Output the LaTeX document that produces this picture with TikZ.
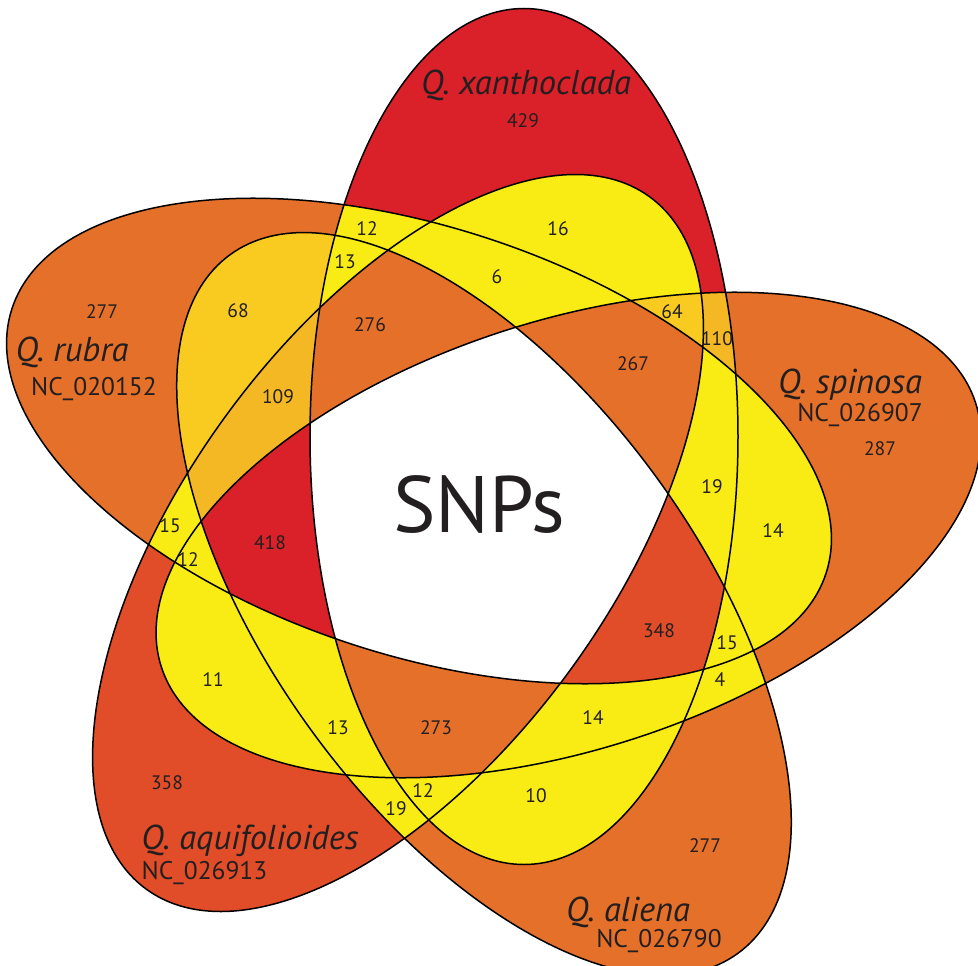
\documentclass[tikz,border=0pt]{standalone}
\usepackage{fontspec}
\setmainfont{PT Sans}
\definecolor{cRed}{RGB}{218,33,41}
\definecolor{cOra}{RGB}{228,112,41}
\definecolor{cVer}{RGB}{224,77,40}
\definecolor{cYel}{RGB}{248,236,20}
\definecolor{cGoldA}{RGB}{249,203,32}
\definecolor{cGoldB}{RGB}{243,184,36}
\definecolor{txt}{RGB}{35,31,32}
\def\shapeU{(0,0) ellipse [x radius=214, y radius=428]}
\begin{document}
\begin{tikzpicture}[x=1pt,y=-1pt,
  eX/.style={shift={(524,436.5)}},
  eS/.style={shift={(568.5,535)},rotate=-72},
  eT/.style={shift={(484,604)},rotate=-144,yscale=1.009},
  eV/.style={shift={(398,543)},rotate=-216},
  eR/.style={shift={(419,441)},rotate=-288},
  num/.style={font=\fontsize{19.5}{21}\selectfont, anchor=base, inner sep=0pt, text=txt},
  spec/.style={font=\fontsize{34.5}{37}\selectfont\itshape, anchor=base, inner sep=0pt, text=txt},
  acc/.style={font=\fontsize{25.5}{27}\selectfont, anchor=base, inner sep=0pt, text=txt},
  big/.style={font=\fontsize{80}{84}\selectfont, anchor=base, inner sep=0pt, text=txt},
  outline/.style={draw=black, line width=1.5pt}]
\useasboundingbox (0,0) rectangle (978,966);
% single sets
\fill[eX, cRed] \shapeU;
\fill[eR, cOra] \shapeU;
\fill[eS, cOra] \shapeU;
\fill[eT, cOra] \shapeU;
\fill[eV, cVer] \shapeU;
% pairs
\begin{scope}\clip[eX] \shapeU; \fill[eR, cYel] \shapeU;\end{scope}
\begin{scope}\clip[eX] \shapeU; \fill[eS, cGoldB] \shapeU;\end{scope}
\begin{scope}\clip[eX] \shapeU; \fill[eT, cYel] \shapeU;\end{scope}
\begin{scope}\clip[eX] \shapeU; \fill[eV, cYel] \shapeU;\end{scope}
\begin{scope}\clip[eR] \shapeU; \fill[eS, cYel] \shapeU;\end{scope}
\begin{scope}\clip[eR] \shapeU; \fill[eT, cGoldA] \shapeU;\end{scope}
\begin{scope}\clip[eR] \shapeU; \fill[eV, cYel] \shapeU;\end{scope}
\begin{scope}\clip[eS] \shapeU; \fill[eT, cYel] \shapeU;\end{scope}
\begin{scope}\clip[eS] \shapeU; \fill[eV, cYel] \shapeU;\end{scope}
\begin{scope}\clip[eT] \shapeU; \fill[eV, cYel] \shapeU;\end{scope}
% triples
\begin{scope}\clip[eX] \shapeU; \clip[eR] \shapeU; \fill[eS, cYel] \shapeU;\end{scope}
\begin{scope}\clip[eX] \shapeU; \clip[eR] \shapeU; \fill[eT, cYel] \shapeU;\end{scope}
\begin{scope}\clip[eX] \shapeU; \clip[eR] \shapeU; \fill[eV, cYel] \shapeU;\end{scope}
\begin{scope}\clip[eX] \shapeU; \clip[eS] \shapeU; \fill[eT, cYel] \shapeU;\end{scope}
\begin{scope}\clip[eX] \shapeU; \clip[eS] \shapeU; \fill[eV, cGoldA] \shapeU;\end{scope}
\begin{scope}\clip[eX] \shapeU; \clip[eT] \shapeU; \fill[eV, cYel] \shapeU;\end{scope}
\begin{scope}\clip[eR] \shapeU; \clip[eS] \shapeU; \fill[eT, cYel] \shapeU;\end{scope}
\begin{scope}\clip[eR] \shapeU; \clip[eS] \shapeU; \fill[eV, cYel] \shapeU;\end{scope}
\begin{scope}\clip[eR] \shapeU; \clip[eT] \shapeU; \fill[eV, cGoldB] \shapeU;\end{scope}
\begin{scope}\clip[eS] \shapeU; \clip[eT] \shapeU; \fill[eV, cYel] \shapeU;\end{scope}
% quadruples
\begin{scope}\clip[eX] \shapeU; \clip[eR] \shapeU; \clip[eT] \shapeU; \fill[eV, cOra] \shapeU;\end{scope}
\begin{scope}\clip[eX] \shapeU; \clip[eR] \shapeU; \clip[eS] \shapeU; \fill[eV, cOra] \shapeU;\end{scope}
\begin{scope}\clip[eX] \shapeU; \clip[eR] \shapeU; \clip[eS] \shapeU; \fill[eT, cVer] \shapeU;\end{scope}
\begin{scope}\clip[eX] \shapeU; \clip[eS] \shapeU; \clip[eT] \shapeU; \fill[eV, cOra] \shapeU;\end{scope}
\begin{scope}\clip[eR] \shapeU; \clip[eS] \shapeU; \clip[eT] \shapeU; \fill[eV, cRed] \shapeU;\end{scope}
% all five
\begin{scope}\clip[eX] \shapeU; \clip[eR] \shapeU; \clip[eS] \shapeU; \clip[eT] \shapeU; \fill[eV, white] \shapeU;\end{scope}
% outlines
\path[eX, outline] \shapeU;
\path[eR, outline] \shapeU;
\path[eS, outline] \shapeU;
\path[eT, outline] \shapeU;
\path[eV, outline] \shapeU;
% labels
\node[spec] (nx) at (526,95) {Q. xanthoclada};
\node[num] (n429) at (523,128) {429};
\node[num] (n12a) at (367,235) {12};
\node[num] (n16) at (558,235) {16};
\node[num] (n13a) at (345,268) {13};
\node[num] (n6) at (497,283) {6};
\node[num] (n276) at (370,331) {276};
\node[num] (n277r) at (102,318) {277};
\node[num] (n68) at (238,317) {68};
\node[spec] (nr) at (72,361) {Q. rubra};
\node[acc] (nra) at (94,395) {NC\_020152};
\node[num] (n109) at (278,403) {109};
\node[num] (n15a) at (170,532) {15};
\node[num] (n12b) at (188,566) {12};
\node[num] (n418) at (270,549) {418};
\node[big] (snp) at (479,532) {SNPs};
\node[num] (n267) at (633,370) {267};
\node[num] (n64) at (672,318) {64};
\node[num] (n110) at (717,345) {110};
\node[spec] (ns) at (850,393) {Q. spinosa};
\node[acc] (nsa) at (860,421) {NC\_026907};
\node[num] (n287) at (880,455) {287};
\node[num] (n19a) at (712,493) {19};
\node[num] (n14a) at (773,537) {14};
\node[num] (n348) at (659,637) {348};
\node[num] (n15b) at (727,649) {15};
\node[num] (n4) at (720,686) {4};
\node[num] (n277t) at (705,852) {277};
\node[spec] (nt) at (628,921) {Q. aliena};
\node[acc] (nta) at (659,947) {NC\_026790};
\node[num] (n14b) at (593,724) {14};
\node[num] (n273) at (436,734) {273};
\node[num] (n13b) at (338,734) {13};
\node[num] (n12c) at (423,797) {12};
\node[num] (n19b) at (396,815) {19};
\node[num] (n10) at (536,802) {10};
\node[num] (n11) at (213,686) {11};
\node[num] (n358) at (167,789) {358};
\node[spec] (nv) at (250,849) {Q. aquifolioides};
\node[acc] (nva) at (204.5,879) {NC\_026913};
\end{tikzpicture}
\end{document}
